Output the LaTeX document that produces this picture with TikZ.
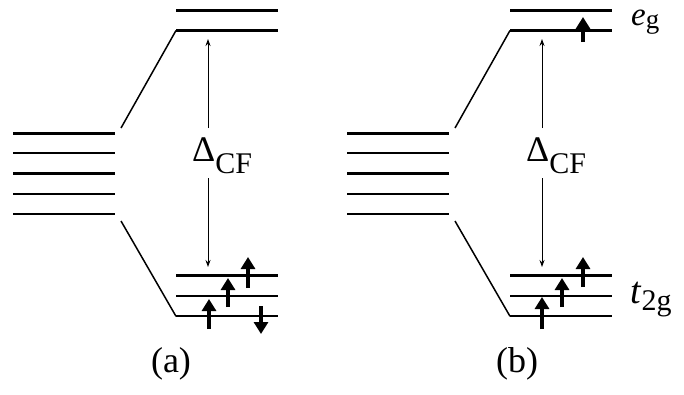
\documentclass[tikz,border=0pt]{standalone}
\usepackage{fontspec}
\setmainfont{Liberation Serif}
\usetikzlibrary{arrows.meta}
\tikzset{
  level/.style={line width=2.2pt},
  levelthick/.style={line width=3pt},
  conn/.style={line width=1.5pt},
  gap/.style={line width=0.9pt,-{Stealth[length=7pt,width=5pt]}},
  spin/.style={line width=4.5pt,-{Triangle[length=12pt,width=14pt]}},
  lbl/.style={inner sep=0pt,font=\fontsize{36}{40}\selectfont},
}
\begin{document}
\begin{tikzpicture}[x=1pt,y=-1pt]
\useasboundingbox (0,0) rectangle (684,394);
\foreach \p/\ox in {a/0,b/334}{
  % degenerate levels
  \foreach \i/\y in {1/133,2/153.3,3/173.5,4/194,5/214}{
    \coordinate (\p L\i w) at (13+\ox,\y);
    \coordinate (\p L\i e) at (115+\ox,\y);
  }
  \draw[levelthick] (\p L1w) -- (\p L1e);
  \foreach \i in {2,...,5}{\draw[level] (\p L\i w) -- (\p L\i e);}
  % eg levels
  \coordinate (\p E1w) at (176+\ox,10);   \coordinate (\p E1e) at (278+\ox,10);
  \coordinate (\p E2w) at (176+\ox,30.5); \coordinate (\p E2e) at (278+\ox,30.5);
  \draw[levelthick] (\p E1w) -- (\p E1e);
  \draw[level] (\p E2w) -- (\p E2e);
  % t2g levels
  \foreach \i/\y in {1/275.5,2/296,3/316.3}{
    \coordinate (\p T\i w) at (176+\ox,\y);
    \coordinate (\p T\i e) at (278+\ox,\y);
    \draw[level] (\p T\i w) -- (\p T\i e);
  }
  % connectors
  \coordinate (\p cu) at (121+\ox,128);
  \coordinate (\p cd) at (121+\ox,221);
  \draw[conn] (\p cu) -- (\p E2w);
  \draw[conn] (\p cd) -- (\p T3w);
  % splitting label and arrows
  \node[lbl,anchor=base west] (\p D) at (192+\ox,161)
    {Δ\raisebox{-12pt}{\fontsize{30}{30}\selectfont CF}};
  \coordinate (\p gt0) at (208+\ox,128);
  \coordinate (\p gt1) at (208+\ox,39);
  \coordinate (\p gb0) at (208+\ox,178);
  \coordinate (\p gb1) at (208+\ox,267);
  \draw[gap] (\p gt0) -- (\p gt1);
  \draw[gap] (\p gb0) -- (\p gb1);
}
% spins (a)
\coordinate (s1a) at (209,329); \coordinate (s1b) at (209,299);
\coordinate (s2a) at (228,307); \coordinate (s2b) at (228,278);
\coordinate (s3a) at (248,288); \coordinate (s3b) at (248,257);
\coordinate (s4a) at (261,306); \coordinate (s4b) at (261,334);
\draw[spin] (s1a) -- (s1b);
\draw[spin] (s2a) -- (s2b);
\draw[spin] (s3a) -- (s3b);
\draw[spin] (s4a) -- (s4b);
% spins (b)
\coordinate (u0a) at (583,42);  \coordinate (u0b) at (583,17);
\coordinate (u1a) at (542,329); \coordinate (u1b) at (542,297);
\coordinate (u2a) at (562,307); \coordinate (u2b) at (562,278);
\coordinate (u3a) at (583,287); \coordinate (u3b) at (583,257);
\draw[spin] (u0a) -- (u0b);
\draw[spin] (u1a) -- (u1b);
\draw[spin] (u2a) -- (u2b);
\draw[spin] (u3a) -- (u3b);
% labels
\node[lbl,anchor=base west] (eg) at (631,25)
  {\fontsize{33}{36}\selectfont\textit{e}\raisebox{-3pt}{\fontsize{27}{27}\selectfont g}};
\node[lbl,anchor=base west] (tg) at (630,303)
  {\fontsize{38}{40}\selectfont\textit{t}\raisebox{-7pt}{\fontsize{30}{30}\selectfont 2g}};
\node[lbl] (la) at (171,364) {(a)};
\node[lbl] (lb) at (517,364) {(b)};
\end{tikzpicture}
\end{document}
